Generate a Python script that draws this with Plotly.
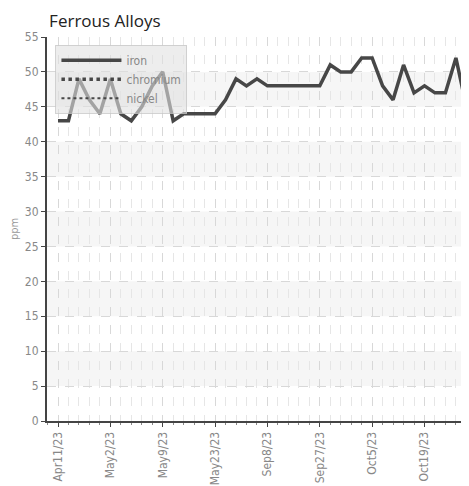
import plotly.graph_objects as go

labels = ["Apr11/23", "May2/23", "May9/23", "May23/23", "Sep8/23", "Sep27/23", "Oct5/23", "Oct19/23"]
label_pos = [0, 5, 10, 15, 20, 25, 30, 35]
iron = [43, 43, 49, 46, 44, 49, 44, 43, 45, 48,
        50, 43, 44, 44, 44, 44, 46, 49, 48, 49,
        48, 48, 48, 48, 48, 48, 51, 50, 50, 52,
        52, 48, 46, 51, 47, 48, 47, 47, 52, 45]
chromium = [None] * len(iron)
nickel = [None] * len(iron)
x = list(range(len(iron)))

FONT = "DejaVu Sans Condensed, Liberation Sans Narrow, Roboto, sans-serif"

fig = go.Figure()
fig.add_trace(go.Scatter(x=x, y=iron, mode="lines", name="iron",
                         line=dict(color="#474747", width=3.5)))
fig.add_trace(go.Scatter(x=x, y=chromium, mode="lines", name="chromium",
                         line=dict(color="#474747", width=3.5, dash="dot")))
fig.add_trace(go.Scatter(x=x, y=nickel, mode="lines", name="nickel",
                         line=dict(color="#474747", width=2, dash="dot")))

shapes = []
for lo in [5, 15, 25, 35, 45]:
    shapes.append(dict(type="rect", xref="paper", yref="y", x0=0, x1=1, y0=lo, y1=lo + 5,
                       fillcolor="#f6f6f6", line=dict(width=0), layer="below"))

fig.update_layout(
    width=461, height=478,
    margin=dict(l=39, r=0, t=29, b=65),
    paper_bgcolor="white", plot_bgcolor="white",
    shapes=shapes,
    title=dict(text="Ferrous Alloys", x=0.005, xanchor="left", xref="paper", y=0.985, yanchor="top",
               font=dict(family="Open Sans, DejaVu Sans, sans-serif", size=17, color="#222")),
    showlegend=True,
    legend=dict(x=0.02, y=0.98, xanchor="left", yanchor="top",
                bgcolor="rgba(225,225,225,0.6)", bordercolor="rgba(200,200,200,0.8)", borderwidth=1,
                font=dict(family=FONT, size=12, color="#888"),
                itemwidth=60, tracegroupgap=0),
    xaxis=dict(range=[-1.05, 39.25], tickmode="array", tickvals=label_pos, ticktext=labels,
               tickangle=-90, tickfont=dict(family=FONT, size=12, color="#888"),
               showline=True, linecolor="#444", linewidth=2,
               ticks="outside", ticklen=4, tickcolor="#444",
               showgrid=True, gridcolor="#d8d8d8", griddash="dash", gridwidth=1,
               minor=dict(tickmode="linear", tick0=0, dtick=1, showgrid=True, gridcolor="#e6e6e6",
                          griddash="dash", ticks="outside", ticklen=2, tickcolor="#888"),
               zeroline=False),
    yaxis=dict(range=[0, 55], tickmode="linear", tick0=0, dtick=5,
               tickfont=dict(family=FONT, size=12, color="#888"),
               showline=True, linecolor="#444", linewidth=2,
               ticks="outside", ticklen=4, tickcolor="#444",
               showgrid=True, gridcolor="#d8d8d8", griddash="dash", zeroline=False,
               title=dict(text="ppm", font=dict(family=FONT, size=11, color="#999"), standoff=8)),
)

fig.write_html("out.html")
